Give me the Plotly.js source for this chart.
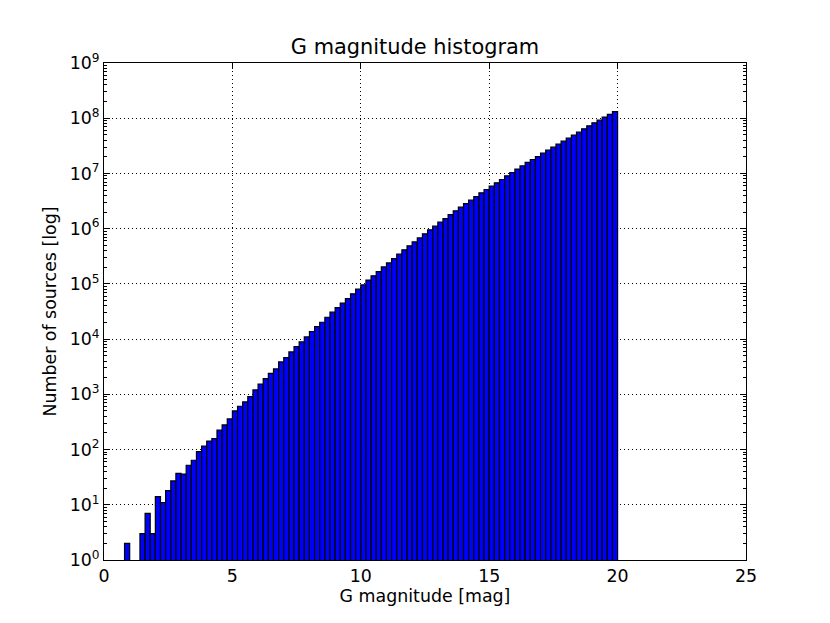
<!DOCTYPE html>
<html>
<head>
<meta charset="utf-8">
<script src="https://cdn.plot.ly/plotly-3.0.1.min.js"></script>
<style>html,body{margin:0;padding:0;background:#fff;}#chart{width:830px;height:623px;}</style>
</head>
<body>
<div id="chart"></div>
<script>
// Left edges of histogram bins (mag)
const binLeft = [0.8,1.0,1.2,1.4,1.6,1.8,2.0,2.2,2.4,2.6,2.8,3.0,3.2,3.4,3.6,3.8,4.0,4.2,4.4,4.6,4.8,
  5.0,5.2,5.4,5.6,5.8,6.0,6.2,6.4,6.6,6.8,7.0,7.2,7.4,7.6,7.8,8.0,8.2,8.4,8.6,8.8,
  9.0,9.2,9.4,9.6,9.8,10.0,10.2,10.4,10.6,10.8,11.0,11.2,11.4,11.6,11.8,12.0,12.2,12.4,12.6,12.8,
  13.0,13.2,13.4,13.6,13.8,14.0,14.2,14.4,14.6,14.8,15.0,15.2,15.4,15.6,15.8,16.0,16.2,16.4,16.6,16.8,
  17.0,17.2,17.4,17.6,17.8,18.0,18.2,18.4,18.6,18.8,19.0,19.2,19.4,19.6,19.8];
// Number of sources per bin
const counts = [2,0,0,3,7,3,14,11,18,27,37,36,52,64,92,115,143,158,224,279,358,
  500,608,728,912,1203,1540,1924,2400,2890,3860,4620,5860,7330,8900,10960,13700,16800,20200,24900,30700,
  37200,44700,54200,66000,80200,95800,117000,140000,167000,203000,240000,287000,345000,413000,488000,576000,681000,805000,951000,1110000,
  1310000,1520000,1800000,2100000,2450000,2850000,3280000,3800000,4460000,5120000,5890000,6760000,7770000,9050000,10400000,12000000,13700000,15800000,17900000,20200000,
  23300000,26400000,29900000,33900000,38400000,43600000,49400000,55900000,64300000,72800000,82600000,92300000,105000000,117000000,132000000];
const binWidth = 0.2;
const xTicks = [0,5,10,15,20,25];
const yTickVals = [1,10,100,1e3,1e4,1e5,1e6,1e7,1e8,1e9];
const yTickText = ['10<sup>0</sup>','10<sup>1</sup>','10<sup>2</sup>','10<sup>3</sup>','10<sup>4</sup>','10<sup>5</sup>','10<sup>6</sup>','10<sup>7</sup>','10<sup>8</sup>','10<sup>9</sup>'];

const font = {family: 'DejaVu Sans, sans-serif', size: 17.4, color: '#000'};

const trace = {
  type: 'bar',
  x: binLeft,
  y: counts.map(v => v > 0 ? v : null),
  width: binWidth,
  offset: 0,
  marker: {color: '#0000ff', line: {color: '#000000', width: 1.2}},
  hoverinfo: 'x+y'
};

const grid = {showgrid: true, gridcolor: '#000', griddash: '1px,3px', gridwidth: 1};

const layout = {
  width: 830, height: 623,
  margin: {l: 104, r: 84, t: 63, b: 63},
  paper_bgcolor: '#fff', plot_bgcolor: '#fff',
  font: font,
  showlegend: false,
  bargap: 0,
  title: {text: 'G magnitude histogram', font: {family: font.family, size: 20.9, color: '#000'}, x: 0.5, xanchor: 'center', y: 0.925, yanchor: 'middle'},
  xaxis: Object.assign({
    range: [0, 25], tickvals: xTicks, ticktext: xTicks.map(String),
    ticks: 'inside', ticklen: 6, tickwidth: 1, tickcolor: '#000',
    showline: true, linecolor: '#000', linewidth: 1, mirror: 'allticks',
    zeroline: false, tickfont: font,
    title: {text: 'G magnitude [mag]', font: font, standoff: 4}
  }, grid),
  yaxis: Object.assign({
    type: 'log', range: [0, 9], tickvals: yTickVals, ticktext: yTickText,
    ticks: 'inside', ticklen: 6, tickwidth: 1, tickcolor: '#000',
    showline: true, linecolor: '#000', linewidth: 1, mirror: 'allticks',
    zeroline: false, tickfont: font,
    minor: {ticks: 'inside', ticklen: 3, tickcolor: '#000', tickwidth: 1, showgrid: false, dtick: 'D1'},
    title: {text: 'Number of sources [log]', font: font, standoff: 8}
  }, grid)
};

Plotly.newPlot('chart', [trace], layout, {displayModeBar: false, staticPlot: true});
</script>
</body>
</html>
